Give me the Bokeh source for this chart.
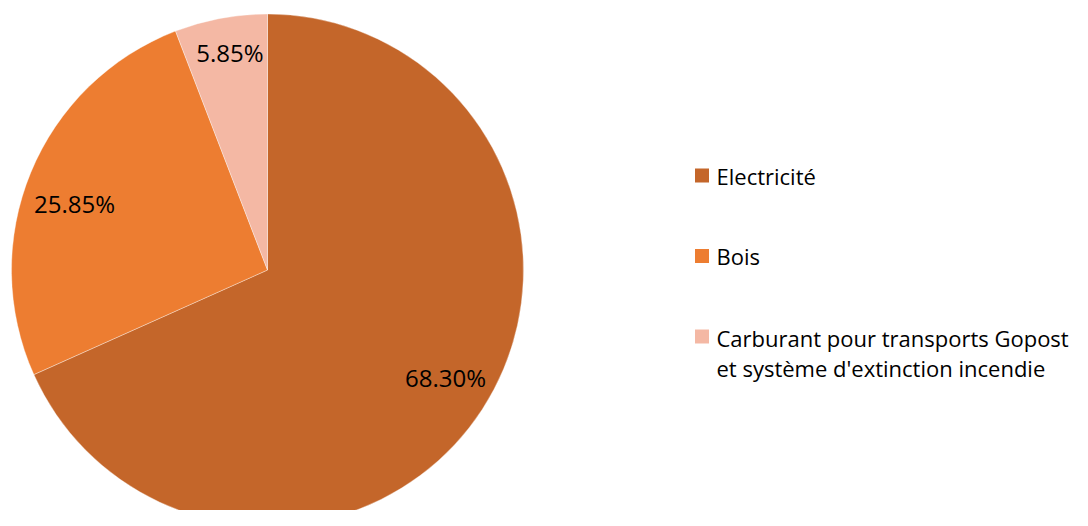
import math
from bokeh.plotting import figure
from bokeh.models import Range1d, ColumnDataSource
from bokeh.core.properties import value
from bokeh.embed import file_html
from bokeh.resources import INLINE

categories = ["Electricité", "Bois", "Carburant pour transports Gopost\net système d'extinction incendie"]
shares = [68.30, 25.85, 5.85]
share_labels = ["68.30%", "25.85%", "5.85%"]
colors = ["#C4662A", "#ED7D31", "#F4B8A4"]

W, H = 1072, 510
p = figure(width=W, height=H, output_backend="svg", toolbar_location=None,
           x_range=Range1d(0, W), y_range=Range1d(0, H), min_border=0)
p.axis.visible = False
p.grid.visible = False
p.outline_line_color = None
p.background_fill_color = "white"

# screen position (px from top-left of image) -> data
def sx(px):
    return px

def sy(py):
    return H - py

cx, cy, R = sx(267), sy(269.5), 256
total = sum(shares)
starts, ends, mids = [], [], []
a = math.pi / 2
for v in shares:
    sweep = 2 * math.pi * v / total
    starts.append(a - sweep)
    ends.append(a)
    mids.append(a - sweep / 2)
    a -= sweep

src = ColumnDataSource(dict(start=starts, end=ends, color=colors))
p.wedge(x=cx, y=cy, radius=R, start_angle="start", end_angle="end",
        fill_color="color", line_color="white", line_width=0.6, line_alpha=0.6, source=src)

# label placement (radius fraction, angle nudge in degrees)
label_r = [0.8125, 0.797, 0.862]
label_nudge = [1.8, 3.4, -0.7]
la = [m + math.radians(n) for m, n in zip(mids, label_nudge)]
lx = [cx + R * f * math.cos(t) for f, t in zip(label_r, la)]
ly = [cy + R * f * math.sin(t) for f, t in zip(label_r, la)]
p.text(x=lx, y=ly, text=share_labels, text_align="center", text_baseline="middle",
       text_font=value("Open Sans"), text_font_size="24px", text_color="#000000")

# legend
leg_x = sx(701.5)
leg_y0 = sy(175)
leg_step = 80.5
line_gap = 32
sq_y = [leg_y0 - i * leg_step for i in range(len(categories))]
p.rect(x=[leg_x] * len(categories), y=sq_y, width=14, height=14, fill_color=colors, line_color=None)
txt_y = [y - (c.count("\n")) * line_gap / 2 for y, c in zip(sq_y, categories)]
p.text(x=[leg_x + 14.5] * len(categories), y=txt_y, text=categories, text_align="left",
       text_baseline="middle", text_font=value("Open Sans"), text_font_size="22px",
       text_color="#000000", text_line_height=1.0)

open("out.html", "w").write(file_html(p, INLINE))
